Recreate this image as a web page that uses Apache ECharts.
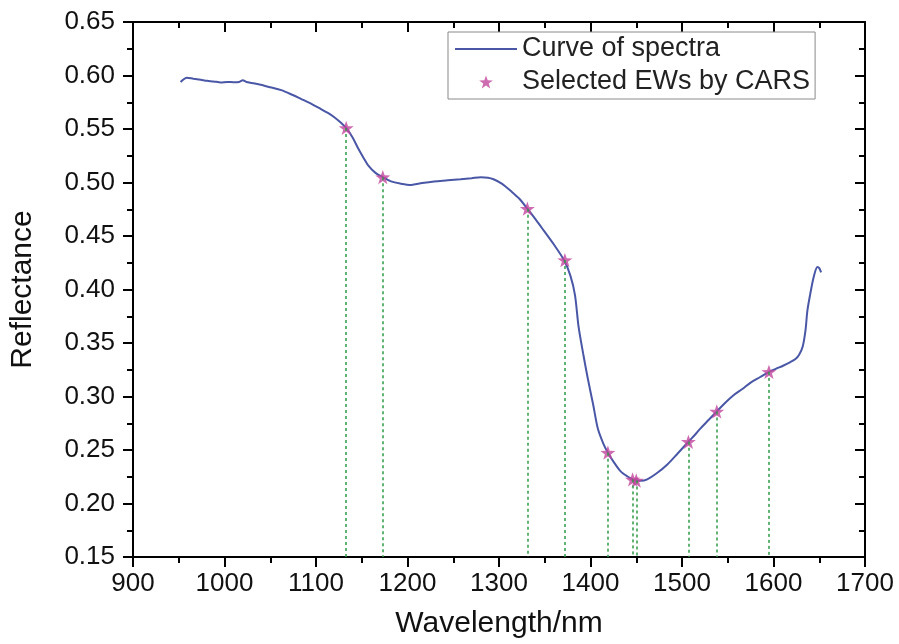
<!DOCTYPE html>
<html>
<head>
    <meta charset="utf-8" />
    <title>Spectra and CARS wavelengths</title>
    <script src="https://cdn.jsdelivr.net/npm/echarts@6/dist/echarts.min.js"></script>
    <style>
        html, body { margin: 0; padding: 0; background: #fff; }
        #main { width: 899px; height: 644px; }
    </style>
</head>
<body>
    <div id="main"></div>
    <script type="text/javascript">
        // spectrum curve (wavelength nm, reflectance)
        var curveNm = [952, 959, 966, 974, 981, 988, 996, 1003, 1010, 1016, 1020, 1024, 1030, 1036, 1050, 1062, 1074, 1084, 1095, 1105, 1113, 1120, 1127, 1133, 1140, 1146, 1152, 1157, 1165, 1173, 1182, 1192, 1204, 1216, 1229, 1244, 1258, 1270, 1280, 1288, 1294, 1303, 1313, 1322, 1331, 1340, 1349, 1360, 1371, 1378, 1383, 1387, 1392, 1397, 1403, 1408, 1414, 1419, 1426, 1433, 1440, 1447, 1450, 1455, 1462, 1472, 1484, 1495, 1507, 1514, 1520, 1529, 1538, 1547, 1556, 1566, 1575, 1585, 1595, 1603, 1611, 1618, 1624, 1628, 1632, 1635, 1637, 1640, 1644, 1648, 1650, 1652];
        var curveR = [0.594, 0.598, 0.597, 0.596, 0.595, 0.5945, 0.5935, 0.594, 0.5937, 0.594, 0.5955, 0.594, 0.593, 0.592, 0.589, 0.5863, 0.582, 0.578, 0.5735, 0.5688, 0.565, 0.561, 0.556, 0.551, 0.542, 0.532, 0.523, 0.516, 0.509, 0.505, 0.501, 0.499, 0.4977, 0.4995, 0.501, 0.502, 0.503, 0.504, 0.505, 0.5045, 0.503, 0.499, 0.492, 0.485, 0.4755, 0.4655, 0.455, 0.442, 0.4275, 0.413, 0.395, 0.365, 0.34, 0.317, 0.292, 0.27, 0.256, 0.2475, 0.238, 0.23, 0.2255, 0.2222, 0.2215, 0.2212, 0.2226, 0.228, 0.2365, 0.2465, 0.2577, 0.264, 0.27, 0.278, 0.286, 0.294, 0.301, 0.307, 0.313, 0.318, 0.323, 0.326, 0.329, 0.332, 0.335, 0.339, 0.347, 0.362, 0.38, 0.395, 0.412, 0.421, 0.42, 0.416];

        // wavelengths selected by CARS
        var selNm = [1133, 1173, 1331, 1372, 1419, 1446, 1450, 1507, 1538, 1595];
        var selR = [0.551, 0.505, 0.4755, 0.4275, 0.2475, 0.2225, 0.2215, 0.2577, 0.286, 0.323];

        var xTicks = [900, 1000, 1100, 1200, 1300, 1400, 1500, 1600, 1700];
        var yTicks = [0.15, 0.20, 0.25, 0.30, 0.35, 0.40, 0.45, 0.50, 0.55, 0.60, 0.65];

        var starPath = 'path://M0,-10L2.35,-3.24L9.51,-3.09L3.8,1.24L5.88,8.09L0,4L-5.88,8.09L-3.8,1.24L-9.51,-3.09L-2.35,-3.24Z';
        var font = 'Liberation Sans, Arial, sans-serif';

        var myChart = echarts.init(document.getElementById('main'));

        var baseX = {
            type: 'value',
            min: xTicks[0],
            max: xTicks[xTicks.length - 1],
            interval: 100,
            splitLine: { show: false },
            axisLine: { onZero: false, lineStyle: { color: '#000', width: 2 } },
            minorTick: { show: true, splitNumber: 2, length: 6, lineStyle: { color: '#000', width: 2 } },
            axisTick: { length: 10, lineStyle: { color: '#000', width: 2 } }
        };
        var baseY = {
            type: 'value',
            min: yTicks[0],
            max: yTicks[yTicks.length - 1],
            interval: 0.05,
            splitLine: { show: false },
            axisLine: { onZero: false, lineStyle: { color: '#000', width: 2 } },
            minorTick: { show: true, splitNumber: 2, length: 6, lineStyle: { color: '#000', width: 2 } },
            axisTick: { length: 10, lineStyle: { color: '#000', width: 2 } }
        };

        var dropLines = selNm.map(function (x, i) {
            return [{ coord: [x, selR[i]] }, { coord: [x, yTicks[0]] }];
        });

        myChart.setOption({
            animation: false,
            textStyle: { fontFamily: font },
            grid: { left: 132, right: 34, top: 22, bottom: 81 },
            legend: {
                orient: 'vertical',
                left: 448,
                top: 32,
                padding: [3, 5, 3, 6],
                itemGap: 5,
                itemWidth: 62,
                itemHeight: 13,
                borderColor: '#8a8a8a',
                borderWidth: 1,
                textStyle: { fontSize: 27, color: '#222', fontFamily: font, lineHeight: 28 },
                data: [
                    { name: 'Curve of spectra', itemStyle: { opacity: 0 } },
                    { name: 'Selected EWs by CARS' }
                ]
            },
            xAxis: [
                Object.assign({}, baseX, {
                    position: 'bottom',
                    name: 'Wavelength/nm',
                    nameLocation: 'middle',
                    nameGap: 52,
                    nameTextStyle: { fontSize: 30, color: '#111', fontFamily: font },
                    axisLabel: { fontSize: 26, color: '#111', margin: 14, formatter: function (v) { return String(v); } }
                }),
                Object.assign({}, baseX, {
                    position: 'top',
                    axisLabel: { show: false },
                    axisTick: { inside: true, length: 10, lineStyle: { color: '#000', width: 2 } },
                    minorTick: { show: true, splitNumber: 2, length: 6, lineStyle: { color: '#000', width: 2 } }
                })
            ],
            yAxis: [
                Object.assign({}, baseY, {
                    position: 'left',
                    name: 'Reflectance',
                    nameLocation: 'middle',
                    nameGap: 95,
                    nameTextStyle: { fontSize: 30, color: '#111', fontFamily: font },
                    axisLabel: {
                        fontSize: 26, color: '#111', margin: 18,
                        formatter: function (v) { return v.toFixed(2); }
                    }
                }),
                Object.assign({}, baseY, {
                    position: 'right',
                    axisLabel: { show: false },
                    axisTick: { inside: true, length: 10, lineStyle: { color: '#000', width: 2 } },
                    minorTick: { show: true, splitNumber: 2, length: 6, lineStyle: { color: '#000', width: 2 } }
                })
            ],
            series: [
                {
                    name: 'Curve of spectra',
                    type: 'line',
                    xAxisIndex: 0,
                    yAxisIndex: 0,
                    symbol: 'none',
                    smooth: 0.3,
                    z: 3,
                    lineStyle: { color: '#4a57a6', width: 2 },
                    itemStyle: { color: '#4a57a6' },
                    data: curveNm.map(function (x, i) { return [x, curveR[i]]; })
                },
                {
                    name: 'Selected EWs by CARS',
                    type: 'scatter',
                    xAxisIndex: 0,
                    yAxisIndex: 0,
                    symbol: starPath,
                    symbolSize: 15,
                    symbolKeepAspect: true,
                    z: 4,
                    itemStyle: { color: '#c2469e' },
                    data: selNm.map(function (x, i) { return [x, selR[i]]; }),
                    markLine: {
                        silent: true,
                        symbol: 'none',
                        label: { show: false },
                        lineStyle: { color: '#2f9a45', width: 1.5, type: [3, 3] },
                        data: dropLines
                    }
                }
            ]
        });
    </script>
</body>
</html>
